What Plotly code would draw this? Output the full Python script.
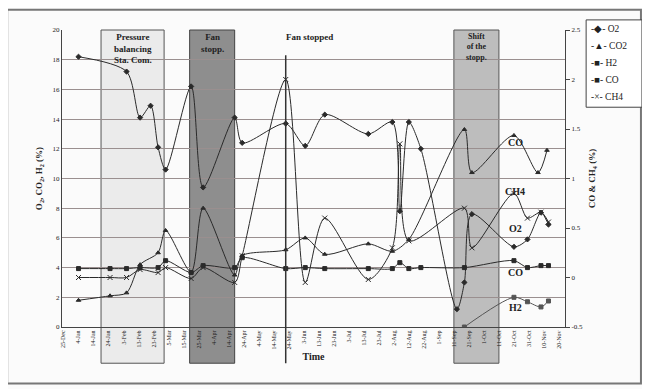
import plotly.graph_objects as go
import pandas as pd

# ---------------- data ----------------
o2_dates = ["2003-01-04", "2003-02-05", "2003-02-14", "2003-02-21", "2003-02-26", "2003-03-03",
            "2003-03-20", "2003-03-28", "2003-04-18", "2003-04-23", "2003-05-22", "2003-06-04",
            "2003-06-17", "2003-07-16", "2003-08-01", "2003-08-06", "2003-08-12", "2003-08-20",
            "2003-09-13", "2003-09-18", "2003-09-23", "2003-10-21", "2003-10-30", "2003-11-08",
            "2003-11-13"]
o2_vals = [18.2, 17.2, 14.1, 14.9, 12.1, 10.6, 16.2, 9.4, 14.1, 12.4, 13.7, 12.2,
           14.3, 13.0, 13.8, 7.8, 13.8, 12.0, 1.2, 3.0, 7.6, 5.4, 5.9, 7.7, 6.9]

co2_dates = ["2003-01-04", "2003-01-25", "2003-02-05", "2003-02-14", "2003-02-26", "2003-03-03",
             "2003-03-20", "2003-03-28", "2003-04-18", "2003-04-23", "2003-05-22", "2003-06-04",
             "2003-06-17", "2003-07-16", "2003-08-01", "2003-08-12", "2003-09-18", "2003-09-23",
             "2003-10-21", "2003-11-06", "2003-11-12"]
co2_vals = [1.8, 2.1, 2.3, 4.2, 5.0, 6.5, 3.7, 8.0, 3.5, 4.8, 5.2, 6.0,
            4.9, 5.6, 5.1, 5.9, 13.3, 10.4, 12.9, 10.4, 11.9]

h2_dates = ["2003-09-18", "2003-10-21", "2003-10-30", "2003-11-08", "2003-11-13"]
h2_vals = [0.0, 2.0, 1.7, 1.35, 1.75]

co_dates = ["2003-01-04", "2003-01-25", "2003-02-05", "2003-02-14", "2003-02-26", "2003-03-03",
            "2003-03-20", "2003-03-28", "2003-04-18", "2003-04-23", "2003-05-22", "2003-06-04",
            "2003-06-17", "2003-07-16", "2003-08-01", "2003-08-06", "2003-08-12", "2003-08-20",
            "2003-09-18", "2003-10-21", "2003-10-30", "2003-11-08", "2003-11-13"]
co_vals = [0.09, 0.09, 0.09, 0.10, 0.10, 0.17, 0.05, 0.12, 0.10, 0.20, 0.09, 0.10,
           0.09, 0.09, 0.09, 0.15, 0.09, 0.10, 0.10, 0.17, 0.10, 0.12, 0.12]

ch4_dates = ["2003-01-04", "2003-01-25", "2003-02-05", "2003-02-14", "2003-02-26", "2003-03-03",
             "2003-03-20", "2003-03-28", "2003-04-18", "2003-04-23", "2003-05-22", "2003-06-04",
             "2003-06-17", "2003-07-16", "2003-08-01", "2003-08-06", "2003-08-12", "2003-09-18",
             "2003-09-23", "2003-10-21", "2003-10-30", "2003-11-08", "2003-11-13"]
ch4_vals = [0.0, 0.0, 0.0, 0.08, 0.05, 0.10, -0.01, 0.10, -0.05, 0.22, 2.0, -0.05,
            0.60, -0.02, 0.30, 1.35, 0.37, 0.70, 0.30, 0.85, 0.60, 0.66, 0.56]

series_names = ["O2", "CO2", "H2", "CO", "CH4"]
legend_glyphs = ["\u25C6", "\u25B2", "\u25A0", "\u25A0", "\u00D7"]

tick_dates = pd.date_range("2002-12-25", periods=34, freq="10D")
tick_text = [f"{d.day}-{d.strftime('%b')}" for d in tick_dates]

# ---------------- figure ----------------
FONT = "Liberation Serif"
INK = "#2a2a2a"

fig = go.Figure()

def add(dates, vals, name, symbol, axis, size=4, color=INK):
    fig.add_trace(go.Scatter(
        x=dates, y=vals, name=name, yaxis=axis,
        mode="lines+markers", showlegend=False,
        line=dict(color=color, width=1, shape="spline", smoothing=0.8),
        marker=dict(symbol=symbol, size=size, color=color,
                    line=dict(color=color, width=1)),
    ))

add(o2_dates, o2_vals, "O2", "diamond", "y")
add(co2_dates, co2_vals, "CO2", "triangle-up", "y")
add(h2_dates, h2_vals, "H2", "square", "y", color="#555555")
add(co_dates, co_vals, "CO", "square", "y2")
add(ch4_dates, ch4_vals, "CH4", "x-thin-open", "y2", size=5)

shapes = [
    dict(type="rect", xref="x", yref="paper", x0="2003-01-19", x1="2003-03-02",
         y0=-0.122, y1=1, fillcolor="#ebebeb", line=dict(color="#555", width=1), layer="below"),
    dict(type="rect", xref="x", yref="paper", x0="2003-03-19", x1="2003-04-18",
         y0=-0.122, y1=1, fillcolor="#8e8e8e", line=dict(color="#444", width=1), layer="below"),
    dict(type="rect", xref="x", yref="paper", x0="2003-09-11", x1="2003-10-11",
         y0=-0.122, y1=1, fillcolor="#bdbdbd", line=dict(color="#555", width=1), layer="below"),
    dict(type="line", xref="x", yref="paper", x0="2003-05-22", x1="2003-05-22",
         y0=-0.122, y1=0.915, line=dict(color="#333", width=1.5)),
    # outer frame
    dict(type="rect", xref="paper", yref="paper", x0=-0.109, x1=1.151, y0=-0.19, y1=1.068,
         line=dict(color="#777", width=2), fillcolor="rgba(0,0,0,0)"),
    # legend box
    dict(type="rect", xref="paper", yref="paper", x0=1.042, x1=1.153, y0=0.74, y1=1.034,
         line=dict(color="#444", width=1), fillcolor="white"),
]

ann_font = dict(family=FONT, size=9, color="#222")
annotations = [
    dict(text="<b>Pressure<br>balancing<br>Sta. Com.</b>", x="2003-02-09", y=1.0, xref="x", yref="paper",
         yanchor="top", showarrow=False, font=ann_font),
    dict(text="<b>Fan<br>stopp.</b>", x="2003-04-03", y=1.0, xref="x", yref="paper",
         yanchor="top", showarrow=False, font=ann_font),
    dict(text="<b>Fan stopped</b>", x="2003-06-07", y=1.0, xref="x", yref="paper",
         yanchor="top", showarrow=False, font=ann_font),
    dict(text="<b>Shift<br>of the<br>stopp.</b>", x="2003-09-26", y=1.0, xref="x", yref="paper",
         yanchor="top", showarrow=False, font=dict(family=FONT, size=8, color="#222")),
]
lab_font = dict(family=FONT, size=10, color="#222")
for txt, d, v in [("CO", "2003-10-22", 12.4), ("CH4", "2003-10-22", 9.1),
                  ("O2", "2003-10-22", 6.6), ("CO", "2003-10-22", 3.7), ("H2", "2003-10-22", 1.3)]:
    annotations.append(dict(text=f"<b>{txt}</b>", x=d, y=v, xref="x", yref="y",
                            showarrow=False, font=lab_font))

# legend entries as text rows
for i, (nm, gl) in enumerate(zip(series_names, legend_glyphs)):
    annotations.append(dict(
        text=f"-{gl}- {nm}", x=1.047, y=1.005 - i * 0.058, xref="paper", yref="paper",
        xanchor="left", yanchor="middle", showarrow=False,
        font=dict(family=FONT, size=9.5, color="#222")))

# page body adds an 8px offset, so margins are reduced on the left/top accordingly
fig.update_layout(
    width=650, height=389,
    margin=dict(l=54, r=93, t=22, b=70, autoexpand=False),
    paper_bgcolor="#fbfbfb",
    plot_bgcolor="rgba(0,0,0,0)",
    font=dict(family=FONT, size=7, color="#222"),
    shapes=shapes,
    annotations=annotations,
    showlegend=False,
    xaxis=dict(
        type="date", range=["2002-12-24", "2003-11-24"],
        tickvals=list(tick_dates), ticktext=tick_text, tickangle=-90,
        tickfont=dict(size=6), showgrid=False, showline=True, linecolor="#444",
        ticks="", zeroline=False,
        title=dict(text="<b>Time</b>", font=dict(family=FONT, size=10), standoff=4),
    ),
    yaxis=dict(
        range=[0, 20], dtick=2, showgrid=True, gridcolor="#9a8f8f", gridwidth=1,
        showline=True, linecolor="#444", zeroline=False, ticks="",
        tickfont=dict(size=7),
        title=dict(text="<b>O<sub>2</sub>, CO<sub>2</sub>, H<sub>2</sub> (%)</b>",
                   font=dict(family=FONT, size=9), standoff=8),
    ),
    yaxis2=dict(
        range=[-0.5, 2.5], overlaying="y", side="right",
        showgrid=False, showline=True, linecolor="#444", zeroline=False,
        ticks="outside", ticklen=4, tickcolor="#444", tickfont=dict(size=7),
        tickvals=[-0.5, 0, 0.5, 1, 1.5, 2, 2.5],
        ticktext=["-0.5", "0", "0.5", "1", "1.5", "2", "2.5"],
        title=dict(text="<b>CO & CH<sub>4</sub> (%)</b>",
                   font=dict(family=FONT, size=9), standoff=6),
    ),
)

fig.write_html("out.html")
